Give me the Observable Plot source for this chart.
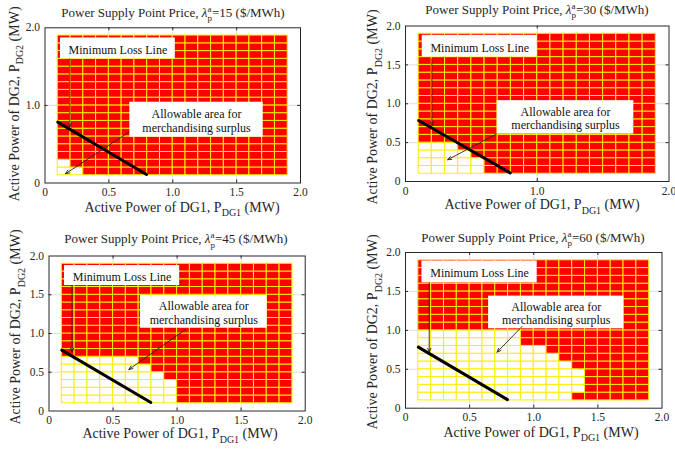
<!DOCTYPE html>
<html><head><meta charset="utf-8">
<script src="https://cdn.jsdelivr.net/npm/d3@7"></script>
<script src="https://cdn.jsdelivr.net/npm/@observablehq/plot@0.6"></script>
<style>
body{margin:0;background:#fff;}
#chart{position:relative;width:675px;height:449px;overflow:hidden;font-family:"Liberation Serif","Times New Roman","DejaVu Serif",serif;}
#chart svg{position:absolute;}
#chart svg text{font-family:"Liberation Serif","Times New Roman","DejaVu Serif",serif;}
</style></head><body><div id="chart"></div>
<script>
// ---------- data ----------
const prices = [15, 30, 45, 60];
// cell edges of the DG1 / DG2 grid (MW)
const cellEdges = [0.1,0.2,0.3,0.4,0.5,0.6,0.7,0.8,0.9,1.0,1.1,1.2,1.3,1.4,1.5,1.6,1.7,1.8,1.9];
// for each DG1 column (0.1-0.2 ... 1.8-1.9): top of the white (allowable) cells, 0.1 = none
const whiteTop15 = [0.3,0.2,0.1,0.1,0.1,0.1,0.1,0.1,0.1,0.1,0.1,0.1,0.1,0.1,0.1,0.1,0.1,0.1];
const whiteTop30 = [0.5,0.5,0.5,0.4,0.3,0.1,0.1,0.1,0.1,0.1,0.1,0.1,0.1,0.1,0.1,0.1,0.1,0.1];
const whiteTop45 = [0.7,0.7,0.7,0.7,0.7,0.7,0.6,0.5,0.4,0.1,0.1,0.1,0.1,0.1,0.1,0.1,0.1,0.1];
const whiteTop60 = [1.0,1.0,1.0,1.0,1.0,1.0,1.0,1.0,0.8,0.8,0.7,0.6,0.5,0.1,0.1,0.1,0.1,0.1];
// bottom of the white cells (only λ=60 has a red cell below the white ones)
const whiteBottom60 = [0.1,0.1,0.1,0.1,0.1,0.1,0.1,0.1,0.1,0.1,0.1,0.1,0.2,0.1,0.1,0.1,0.1,0.1];

const xTicks15 = [0,0.5,1,1.5,2], yTicks15 = [0,1,2];
const xTicks30 = [0,1,2],         yTicks30 = [0,0.5,1,1.5,2];
const xTicks45 = [0,0.5,1,1.5,2], yTicks45 = [0,0.5,1,1.5,2];
const xTicks60 = [0,0.5,1,1.5,2], yTicks60 = [0,0.5,1,1.5,2];

// minimum loss line (DG1, DG2)
const lossLineX = [0.10, 0.795];
const lossLineY = [0.785, 0.11];

// annotation boxes & arrows, one entry per panel (data units)
const mllBoxX1 = [0.121, 0.127, 0.121, 0.128];
const mllBoxX2 = [1.02, 1.00, 1.02, 1.027];
const mllBoxY1 = [1.60, 1.60, 1.619, 1.61];
const mllBoxY2 = [1.87, 1.88, 1.877, 1.89];
const mllArrowX = [0.194, 0.20, 0.18, 0.185];
const mllArrowY1 = [1.60, 1.58, 1.62, 1.61];
const mllArrowY2 = [0.72, 0.72, 0.76, 0.72];

const allowBoxX1 = [0.664, 0.696, 0.714, 0.648];
const allowBoxX2 = [1.708, 1.733, 1.703, 1.703];
const allowBoxY1 = [0.59, 0.61, 1.068, 1.02];
const allowBoxY2 = [1.041, 1.04, 1.49, 1.44];
const allowArrowX1 = [0.656, 0.69, 1.066, 0.909];
const allowArrowY1 = [0.655, 0.61, 1.052, 1.05];
const allowArrowX2 = [0.160, 0.32, 0.623, 0.714];
const allowArrowY2 = [0.119, 0.28, 0.535, 0.72];

const mllText = "Minimum Loss Line";
const allowText = "Allowable area for\nmerchandising surplus";

// ---------- layout ----------
const layouts = [
  {svgX:0,   svgY:0,   w:337, h:224, left:44.5, top:27.3,  right:300,   bottom:182.5,
   titleX:173, titleY:16.5, xlabX:182, xlabY:211.5, ylabX:18.5, ylabY:104},
  {svgX:337, svgY:0,   w:338, h:224, left:405,  top:25.5,  right:668.5, bottom:181,
   titleX:537, titleY:13.5, xlabX:542, xlabY:209, ylabX:377, ylabY:107},
  {svgX:0,   svgY:224, w:337, h:225, left:48.5, top:255.5, right:304.7, bottom:410.5,
   titleX:176, titleY:243, xlabX:180, xlabY:438, ylabX:20, ylabY:327},
  {svgX:337, svgY:224, w:338, h:225, left:405,  top:252,   right:661.5, bottom:407.7,
   titleX:533, titleY:241.5, xlabX:541, xlabY:436.5, ylabX:377, ylabY:332}
];
const panelData = [
  {top: whiteTop15, bottom: null, xt: xTicks15, yt: yTicks15},
  {top: whiteTop30, bottom: null, xt: xTicks30, yt: yTicks30},
  {top: whiteTop45, bottom: null, xt: xTicks45, yt: yTicks45},
  {top: whiteTop60, bottom: whiteBottom60, xt: xTicks60, yt: yTicks60}
];

const fmt = d => d === 0 ? "0" : d.toFixed(1);
const ink = "#262626";
const serif = "'Liberation Serif', 'Times New Roman', 'DejaVu Serif', serif";

function cellsFor(top, bottom) {
  const out = [];
  for (let i = 0; i < cellEdges.length - 1; i++)
    for (let j = 0; j < cellEdges.length - 1; j++) {
      const y1 = cellEdges[j], y2 = cellEdges[j + 1];
      const lo = bottom ? bottom[i] : cellEdges[0];
      const white = y1 >= lo - 1e-9 && y2 <= top[i] + 1e-9;
      out.push({x1: cellEdges[i], x2: cellEdges[i + 1], y1, y2, white});
    }
  return out;
}

const chart = document.getElementById("chart");

layouts.forEach((L, k) => {
  const P = panelData[k];
  const cells = cellsFor(P.top, P.bottom);
  const innerX = P.xt.filter(d => d > 0 && d < 2);
  const innerY = P.yt.filter(d => d > 0 && d < 2);
  const sx = (L.right - L.left) / 2, sy = (L.bottom - L.top) / 2;
  const tx = 3 / sy, ty = 3 / sx; // inward tick length in data units
  const line = [{x: lossLineX[0], y: lossLineY[0]}, {x: lossLineX[1], y: lossLineY[1]}];
  const boxes = [
    {x1: mllBoxX1[k], x2: mllBoxX2[k], y1: mllBoxY1[k], y2: mllBoxY2[k], t: mllText},
    {x1: allowBoxX1[k], x2: allowBoxX2[k], y1: allowBoxY1[k], y2: allowBoxY2[k], t: allowText}
  ];
  const arrows = [
    {x1: mllArrowX[k], y1: mllArrowY1[k], x2: mllArrowX[k], y2: mllArrowY2[k]},
    {x1: allowArrowX1[k], y1: allowArrowY1[k], x2: allowArrowX2[k], y2: allowArrowY2[k]}
  ];
  const svg = Plot.plot({
    width: L.w, height: L.h,
    marginLeft: L.left - L.svgX, marginTop: L.top - L.svgY,
    marginRight: L.svgX + L.w - L.right, marginBottom: L.svgY + L.h - L.bottom,
    x: {domain: [0, 2]}, y: {domain: [0, 2]},
    style: {fontFamily: serif, fontSize: "11.5px", color: ink, background: "transparent", overflow: "visible"},
    marks: [
      Plot.gridX(innerX, {stroke: ink, strokeOpacity: 0.15}),
      Plot.gridY(innerY, {stroke: ink, strokeOpacity: 0.15}),
      Plot.rect(cells, {x1: "x1", x2: "x2", y1: "y1", y2: "y2",
        fill: d => d.white ? "#ffffff" : "#ff0000", stroke: "#ffee00", strokeWidth: 1}),
      Plot.line(line, {x: "x", y: "y", stroke: "#000", strokeWidth: 3}),
      Plot.rect(boxes, {x1: "x1", x2: "x2", y1: "y1", y2: "y2", fill: "#fff"}),
      Plot.text(boxes, {x: d => (d.x1 + d.x2) / 2, y: d => (d.y1 + d.y2) / 2, text: "t",
        fontSize: 12, lineHeight: 1.12, fill: "#111", dy: 1, fontFamily: serif}),
      Plot.arrow(arrows, {x1: "x1", y1: "y1", x2: "x2", y2: "y2", stroke: "#222",
        strokeWidth: 0.9, headLength: 7, headAngle: 45}),
      Plot.ruleX(innerX, {x: d => d, y1: 0, y2: tx, stroke: ink}),
      Plot.ruleX(innerX, {x: d => d, y1: 2, y2: 2 - tx, stroke: ink}),
      Plot.ruleY(innerY, {y: d => d, x1: 0, x2: ty, stroke: ink}),
      Plot.ruleY(innerY, {y: d => d, x1: 2, x2: 2 - ty, stroke: ink}),
      Plot.frame({stroke: ink}),
      Plot.axisX(P.xt, {tickSize: 0, tickPadding: 5, tickFormat: fmt, label: null, fontSize: 11.5, fontFamily: serif}),
      Plot.axisY(P.yt, {tickSize: 0, tickPadding: 5, tickFormat: fmt, label: null, fontSize: 11.5, fontFamily: serif})
    ]
  });
  svg.style.left = L.svgX + "px";
  svg.style.top = L.svgY + "px";
  chart.appendChild(svg);
});

// ---------- titles & axis labels ----------
const ns = "http://www.w3.org/2000/svg";
const ov = document.createElementNS(ns, "svg");
ov.setAttribute("width", 675); ov.setAttribute("height", 449);
ov.style.left = "0px"; ov.style.top = "0px";
let html = "";
layouts.forEach((L, k) => {
  html += `<text x="${L.titleX}" y="${L.titleY}" text-anchor="middle" font-size="13">Power Supply Point Price, <tspan font-style="italic">λ</tspan><tspan font-size="9" dy="-5">a</tspan><tspan font-size="9" dx="-4" dy="9.5">p</tspan><tspan dy="-4.5">=${prices[k]} ($/MWh)</tspan></text>`;
  html += `<text x="${L.xlabX}" y="${L.xlabY}" text-anchor="middle" font-size="14">Active Power of DG1, P<tspan font-size="10" dy="4.5">DG1</tspan><tspan dy="-4.5"> (MW)</tspan></text>`;
  html += `<text transform="translate(${L.ylabX},${L.ylabY}) rotate(-90)" text-anchor="middle" font-size="14">Active Power of DG2, P<tspan font-size="10" dy="4.5">DG2</tspan><tspan dy="-4.5"> (MW)</tspan></text>`;
});
ov.innerHTML = `<g fill="${ink}">${html}</g>`;
chart.appendChild(ov);
</script>
</body></html>
